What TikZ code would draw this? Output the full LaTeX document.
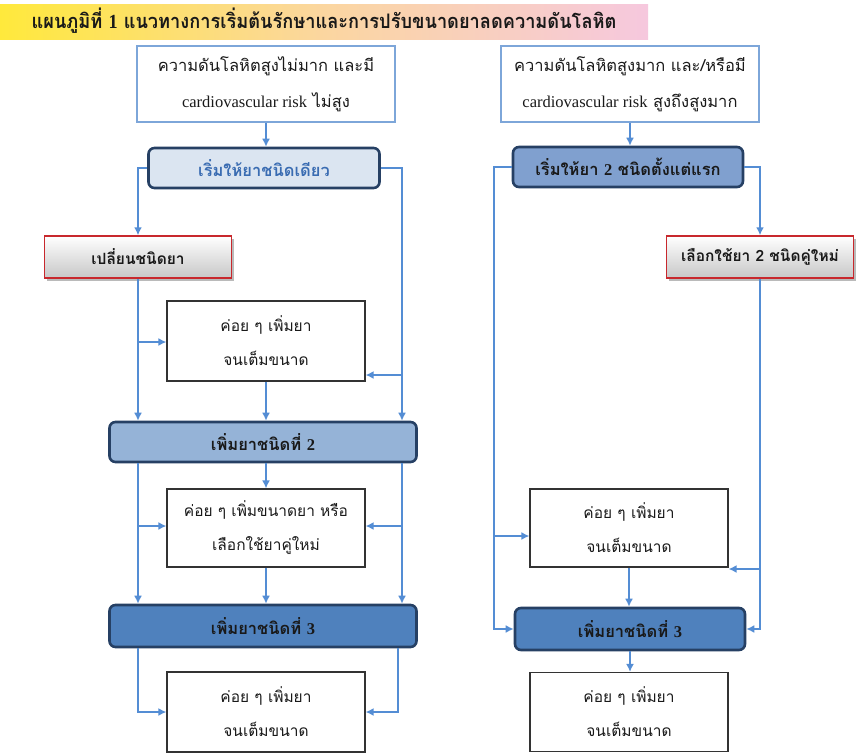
\documentclass[tikz,border=0pt]{standalone}
\usepackage{fontspec}
\setmainfont{Liberation Serif}
\newfontfamily\thai[Script=Thai]{Loma}
\usetikzlibrary{arrows.meta,shadows}
\newcommand\latn[1]{{\rmfamily #1}}

\definecolor{conn}{RGB}{84,141,212}
\definecolor{topline}{RGB}{125,166,217}
\definecolor{darkline}{RGB}{38,64,100}
\definecolor{fillA}{RGB}{219,229,241}
\definecolor{fillB}{RGB}{128,160,207}
\definecolor{fillC}{RGB}{149,179,215}
\definecolor{fillD}{RGB}{79,129,189}
\definecolor{txtblue}{RGB}{58,108,178}
\definecolor{txtdark}{RGB}{25,25,25}
\definecolor{redline}{RGB}{200,40,45}
\definecolor{bandY}{RGB}{255,233,60}
\definecolor{bandO}{RGB}{251,214,160}
\definecolor{bandP}{RGB}{246,200,222}

\tikzset{
  band/.style={inner sep=0pt, minimum width=648pt, minimum height=35pt,
    left color=bandY, right color=bandP, middle color=bandO},
  topbox/.style={draw=topline, line width=1.5pt, fill=white, minimum width=258pt,
    minimum height=76pt, align=center, text=txtdark, inner sep=0pt,
    font=\thai\fontsize{16.5}{36}\selectfont},
  roundbox/.style={draw=darkline, line width=2.6pt, rounded corners=6pt,
    minimum height=40pt, inner sep=0pt, text=txtdark,
    font=\thai\bfseries\fontsize{16.5}{18}\selectfont},
  redbox/.style={draw=redline, line width=1.5pt, top color=white, bottom color=black!22,
    drop shadow={shadow xshift=2.5pt, shadow yshift=-2.5pt, fill=black!45, opacity=0.6},
    minimum width=187pt, minimum height=42pt, inner sep=0pt, text=txtdark,
    font=\thai\bfseries\fontsize{15.5}{18}\selectfont},
  plainbox/.style={draw=black!80, line width=1.2pt, fill=white, minimum width=198pt,
    minimum height=79pt, align=center, inner sep=0pt, text=txtdark,
    font=\thai\fontsize{15.5}{34}\selectfont},
  wire/.style={draw=conn, line width=1.6pt},
  arr/.style={wire, -{Latex[length=8pt,width=8pt]}},
}

\begin{document}
\begin{tikzpicture}[x=1pt,y=-1pt]
\useasboundingbox (0,0) rectangle (857,755);
\fill[white] (0,0) rectangle (857,755);

% heading strip
\node[band] (head) at (324,22) {};
\node[font=\thai\bfseries\fontsize{20}{24}\selectfont, text=black!90] (headtxt) at (324,21)
  {\scalebox{0.91}[1]{แผนภูมิที่ \latn{1} แนวทางการเริ่มต้นรักษาและการปรับขนาดยาลดความดันโลหิต}};

% left pathway
\node[topbox] (tl) at (266,84) {ความดันโลหิตสูงไม่มาก และมี\\\latn{cardiovascular risk} ไม่สูง};
\node[roundbox, fill=fillA, minimum width=231pt, text=txtblue] (s1) at (264,168) {เริ่มให้ยาชนิดเดียว};
\node[redbox] (chg) at (138,257) {เปลี่ยนชนิดยา};
\node[plainbox, minimum height=80pt] (b1) at (266,341) {ค่อย ๆ เพิ่มยา\\จนเต็มขนาด};
\node[roundbox, fill=fillC, minimum width=307pt] (add2L) at (263,442) {เพิ่มยาชนิดที่ \latn{2}};
\node[plainbox, minimum height=78pt] (b2) at (266,528) {ค่อย ๆ เพิ่มขนาดยา หรือ\\เลือกใช้ยาคู่ใหม่};
\node[roundbox, fill=fillD, minimum width=307pt, minimum height=42pt] (add3L) at (263,626) {เพิ่มยาชนิดที่ \latn{3}};
\node[plainbox, minimum height=80pt] (b3) at (266,712) {ค่อย ๆ เพิ่มยา\\จนเต็มขนาด};

% right pathway
\node[topbox] (tr) at (630,84) {ความดันโลหิตสูงมาก และ/หรือมี\\\latn{cardiovascular risk} สูงถึงสูงมาก};
\node[roundbox, fill=fillB, minimum width=230pt] (s2) at (628,167) {เริ่มให้ยา \latn{2} ชนิดตั้งแต่แรก};
\node[redbox] (new2) at (760,257) {เลือกใช้ยา 2 ชนิดคู่ใหม่};
\node[plainbox, minimum height=78pt] (rb1) at (629,528) {ค่อย ๆ เพิ่มยา\\จนเต็มขนาด};
\node[roundbox, fill=fillD, minimum width=230pt, minimum height=42pt] (add3R) at (630,629) {เพิ่มยาชนิดที่ \latn{3}};
\node[plainbox, minimum height=79pt] (rb2) at (629,712) {ค่อย ๆ เพิ่มยา\\จนเต็มขนาด};

% bus columns and junctions
\coordinate (xL) at (138,0);
\coordinate (xR) at (402,0);
\coordinate (xR3) at (398,0);
\coordinate (xRL) at (494,0);
\coordinate (jL1) at (138,342);
\coordinate (jR1) at (402,375);
\coordinate (jL2) at (138,526);
\coordinate (jR2) at (402,526);
\coordinate (jRL) at (494,536);
\coordinate (jRR) at (760,569);

% left connectors
\draw[arr] (tl.south) -- (tl.south |- s1.north);
\draw[arr] (s1.west) -| (chg.north);
\draw[arr] (s1.east) -| (add2L.north -| xR);
\draw[arr] (jR1) -- (jR1 -| b1.east);
\draw[arr] (chg.south) -- (chg.south |- add2L.north);
\draw[arr] (jL1) -- (jL1 -| b1.west);
\draw[arr] (b1.south) -- (b1.south |- add2L.north);
\draw[arr] (add2L.south -| xL) -- (add3L.north -| xL);
\draw[arr] (add2L.south -| xR) -- (add3L.north -| xR);
\draw[arr] (jL2) -- (jL2 -| b2.west);
\draw[arr] (jR2) -- (jR2 -| b2.east);
\draw[arr] (add2L.south -| b2.north) -- (b2.north);
\draw[arr] (b2.south) -- (b2.south |- add3L.north);
\draw[arr] (add3L.south -| xL) |- (b3.west);
\draw[arr] (add3L.south -| xR3) |- (b3.east);

% right connectors
\draw[arr] (tr.south) -- (tr.south |- s2.north);
\draw[arr] (s2.west) -| (add3R.west -| xRL) -- (add3R.west);
\draw[arr] (jRL) -- (jRL -| rb1.west);
\draw[arr] (s2.east) -| (new2.north);
\draw[arr] (new2.south) |- (add3R.east);
\draw[arr] (jRR) -- (jRR -| rb1.east);
\draw[arr] (rb1.south) -- (rb1.south |- add3R.north);
\draw[arr] (add3R.south) -- (add3R.south |- rb2.north);
\end{tikzpicture}
\end{document}
